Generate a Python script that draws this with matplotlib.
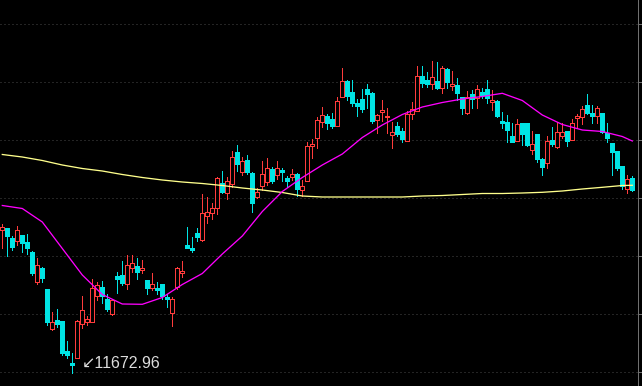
import matplotlib
matplotlib.use("Agg")
import matplotlib.pyplot as plt
from matplotlib.patches import Rectangle

# daily candles
opens = [12388, 12396.5, 12349.5, 12334.5, 12363, 12329.5, 12279.5, 12129.5, 12196.5, 12093,
         11891.5, 11938, 11933, 11783, 11724.5, 11749.5, 11916.5, 11929.5, 11929.5, 12059.5,
         12103, 12045.5, 11969.5, 12158, 12163, 12118, 12196.5, 12208, 12188, 12138,
         12099.5, 12099.5, 12118, 12054.5, 11974.5, 12104.5, 12171.5, 12313, 12299.5, 12371.5,
         12338, 12460.5, 12471.5, 12496.5, 12621.5, 12574.5, 12618, 12776.5, 12679.5, 12738,
         12671.5, 12554.5, 12609.5, 12629.5, 12691.5, 12663, 12688, 12649.5, 12651.5, 12668,
         12588, 12634.5, 12809.5, 12846.5, 12929.5, 12958, 12943, 12909.5, 13054.5, 13133,
         13076.5, 13024.5, 13043, 13093, 13074.5, 12938, 12976.5, 12951.5, 12863, 12908,
         12883, 12834.5, 12968, 12983, 13158, 13138, 13118, 13133, 13099.5, 13193,
         13109.5, 13113, 13054.5, 12971.5, 13066.5, 13049.5, 13076.5, 13093, 13029.5, 13033,
         12933, 12926.5, 12858, 12833, 12921.5, 12921.5, 12788, 12868, 12743, 12721.5,
         12838, 12804.5, 12859.5, 12883, 12838, 12949.5, 12954.5, 13013, 12974.5, 12959.5,
         12974.5, 12874.5, 12824.5, 12783, 12708, 12593, 12649.5]
highs = [12420.5, 12398, 12358, 12408, 12365.5, 12368, 12284.5, 12246.5, 12204.5, 12095.5,
         11976.5, 11993, 11935.5, 11833, 11771.5, 11938, 12058, 11958, 12143, 12129.5,
         12133, 12068, 12041.5, 12179.5, 12233, 12263, 12263, 12246.5, 12238, 12140.5,
         12171.5, 12126.5, 12120.5, 12068, 12051.5, 12204.5, 12233, 12401.5, 12351.5, 12396.5,
         12568, 12551.5, 12521.5, 12651.5, 12683, 12651.5, 12784.5, 12813, 12751.5, 12763,
         12676.5, 12599.5, 12733, 12749.5, 12701.5, 12733, 12699.5, 12659.5, 12693, 12671.5,
         12638, 12829.5, 12843, 12954.5, 13004.5, 12968, 12971.5, 13054.5, 13199.5, 13138,
         13138, 13043, 13093, 13118, 13076.5, 12966.5, 13038, 12996.5, 12929.5, 12929.5,
         12896.5, 12984.5, 13029.5, 13208, 13208, 13180.5, 13233, 13226.5, 13208, 13196.5,
         13183, 13146.5, 13055.5, 13083, 13088, 13113, 13096.5, 13138, 13088, 13038,
         12979.5, 12963, 12921.5, 12943, 12923, 12923, 12883, 12869.5, 12749.5, 12858,
         12904.5, 12929.5, 12924.5, 12884.5, 12941.5, 12968, 13009.5, 13068, 13013, 13008,
         12975.5, 12924.5, 12825.5, 12784.5, 12709.5, 12663, 12658]
lows = [12298, 12259.5, 12288, 12313, 12279.5, 12268, 12163, 12116.5, 12129.5, 11913,
        11888, 11901.5, 11763, 11746.5, 11672.96, 11746.5, 11896.5, 11913, 11926.5, 12038,
        12021.5, 11983, 11965.5, 12074.5, 12113, 12093, 12179.5, 12141.5, 12171.5, 12068,
        12088, 12068, 12041.5, 12004.5, 11909.5, 12091.5, 12154.5, 12298, 12276.5, 12334.5,
        12335.5, 12425.5, 12443, 12466.5, 12574.5, 12541.5, 12604.5, 12684.5, 12663, 12668,
        12479.5, 12549.5, 12588, 12613, 12624.5, 12641.5, 12634.5, 12604.5, 12638, 12558,
        12558, 12633, 12749.5, 12799.5, 12904.5, 12893, 12899.5, 12908, 13053, 13038,
        13008, 12958, 12979.5, 12999.5, 12924.5, 12874.5, 12934.5, 12871.5, 12796.5, 12859.5,
        12826.5, 12833, 12943, 12981.5, 13104.5, 13104.5, 13093, 13093, 13071.5, 13096.5,
        13088, 13038, 12966.5, 12966.5, 12999.5, 12999.5, 13049.5, 13021.5, 12988, 12954.5,
        12896.5, 12826.5, 12828, 12831.5, 12813, 12809.5, 12768, 12729.5, 12663, 12696.5,
        12809.5, 12799.5, 12846.5, 12809.5, 12836.5, 12899.5, 12916.5, 12966.5, 12924.5, 12924.5,
        12871.5, 12829.5, 12663, 12688, 12591.5, 12571.5, 12583]
closes = [12404.5, 12359.5, 12304.5, 12388, 12321.5, 12296.5, 12174.5, 12213, 12146.5, 11929.5,
          11926.5, 11918, 11774.5, 11763, 11714.5, 11933, 11988, 11941.5, 12099.5, 12113,
          12058, 11991.5, 12038, 12144.5, 12121.5, 12213, 12221.5, 12179.5, 12199.5, 12099.5,
          12118, 12089.5, 12058, 12044.5, 12041.5, 12199.5, 12183, 12299.5, 12288, 12354.5,
          12474.5, 12478, 12496.5, 12646.5, 12579.5, 12633, 12751.5, 12716.5, 12733, 12679.5,
          12524.5, 12579.5, 12666.5, 12696.5, 12634.5, 12696.5, 12678, 12633, 12666.5, 12593,
          12608, 12808, 12816.5, 12938, 12963, 12921.5, 12908, 13033, 13133, 13059.5,
          13024.5, 13008, 12993, 13068, 12934.5, 12963, 12988, 12958, 12879.5, 12868,
          12841.5, 12966.5, 12991.5, 13158, 13124.5, 13118, 13151.5, 13099.5, 13196.5, 13129.5,
          13118, 13074.5, 12999.5, 13051.5, 13041.5, 13093, 13063, 13046.5, 13038, 12958,
          12921.5, 12888, 12829.5, 12918, 12868, 12813, 12818, 12743, 12704.5, 12833,
          12818, 12879.5, 12879.5, 12833, 12921.5, 12958, 12993, 12974.5, 12958, 12996.5,
          12876.5, 12846.5, 12779.5, 12696.5, 12608, 12643, 12588]

# moving averages, read every 4th bar
ma_idx = list(range(0, 125, 4)) + [126]
ma_long = [12765.5, 12753, 12735.5, 12713, 12695.5, 12683, 12665.5, 12650.5, 12638, 12628,
           12620.5, 12610.5, 12598, 12588, 12575.5, 12558, 12553, 12553, 12553, 12553,
           12553, 12558, 12560.5, 12565.5, 12570.5, 12570.5, 12573, 12576.5, 12583, 12593,
           12601.5, 12610.5, 12611.5]
ma_mid = [12510.5, 12495.5, 12428, 12295.5, 12163, 12065.5, 12018, 12016.5, 12050.5, 12115.5,
          12170.5, 12268, 12358, 12480.5, 12580.5, 12650.5, 12713, 12768, 12850.5, 12913,
          12965.5, 13003, 13025.5, 13043, 13055.5, 13071.5, 13035.5, 12963, 12915.5, 12888,
          12880.5, 12855.5, 12833]

grid_levels = [13418, 13128, 12838, 12548, 12258, 11968, 11678]
low_label = "11672.96"

UP = '#ff3c3c'
DOWN = '#00e4e4'
px = 72 / 100  # one pixel in points

fig = plt.figure(figsize=(6.42, 3.86), dpi=100, facecolor='black')
ax = fig.add_axes([0, 0, 638 / 642, 1])
ax.set_facecolor('black')

for lv in grid_levels:
    ax.axhline(lv, color='#484848', lw=px, ls=(0, (1, 3)), zorder=0)

w = 0.8
for i in range(len(opens)):
    o, h, l, c = opens[i], highs[i], lows[i], closes[i]
    if c >= o:
        ax.vlines(i, c, h, color=UP, lw=px, antialiased=False, zorder=2)
        ax.vlines(i, l, o, color=UP, lw=px, antialiased=False, zorder=2)
        ax.add_patch(Rectangle((i - w / 2, o), w, c - o, facecolor='black',
                               edgecolor=UP, lw=px, antialiased=False, zorder=2))
    else:
        ax.vlines(i, l, h, color=DOWN, lw=px, antialiased=False, zorder=2)
        ax.add_patch(Rectangle((i - w / 2, c), w, o - c, facecolor=DOWN,
                               edgecolor=DOWN, lw=px, antialiased=False, zorder=2))

ax.plot(ma_idx, ma_long, color='#ffff8c', lw=px * 1.3, zorder=3)
ax.plot(ma_idx, ma_mid, color='#ff00ff', lw=px * 1.3, zorder=3)

ax.text(15.9, 11723, '\u2199' + low_label, color='#dcdcdc', fontsize=11.5,
        family=['Liberation Sans', 'DejaVu Sans'], ha='left', va='center', zorder=4)

ax.set_xlim(-0.46, 127.14)
ax.set_ylim(11608, 13538)
for s in ['left', 'top', 'bottom']:
    ax.spines[s].set_visible(False)
ax.spines['right'].set_color('#707070')
ax.spines['right'].set_linewidth(px)
ax.set_xticks([])
ax.yaxis.tick_right()
ax.set_yticks(grid_levels)
ax.tick_params(axis='y', length=3, width=px, color='#707070', labelright=False, direction='out')

fig.savefig('out.png', dpi=100, facecolor='black')
